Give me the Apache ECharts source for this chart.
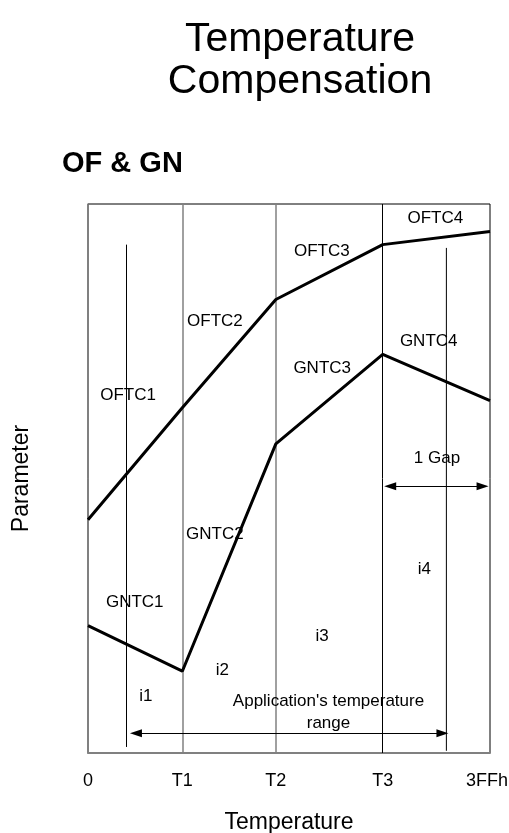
<!DOCTYPE html>
<html>
<head>
<meta charset="utf-8">
<script src="https://cdn.jsdelivr.net/npm/echarts@6/dist/echarts.min.js"></script>
<style>
  html, body { margin: 0; padding: 0; background: #fff; }
  #main { width: 509px; height: 833px; }
</style>
</head>
<body>
<div id="main"></div>
<script>
// temperature axis runs 0 .. 3FFh, breakpoints T1..T3
var tempTicks = [0, 240, 478, 750, 1023]
var tickNames = ['0', 'T1', 'T2', 'T3', '3FFh']

// parameter curves (0..100 scale)
var ofValues = [42.5, 62.9, 82.6, 92.6, 95.0]
var gnValues = [23.2, 14.9, 56.3, 72.6, 64.2]

// application range markers
var rangeLow = 98
var rangeHigh = 912
var rangeLowSpan = [1.1, 92.6]
var rangeHighSpan = [0.4, 92.0]

// arrows
var gapArrow = [[769, 48.6], [1004, 48.6]]
var appArrow = [[122, 3.6], [902, 3.6]]

// labels inside the plot
var noteText = ['OFTC4', 'OFTC3', 'OFTC2', 'GNTC4', 'GNTC3', 'OFTC1', '1 Gap', 'GNTC2',
  'i4', 'GNTC1', 'i3', 'i2', 'i1', "Application's temperature\nrange"]
var noteX = [884, 595, 323, 867, 596, 102, 888, 323, 856, 119, 596, 342, 147, 612]
var noteY = [97.4, 91.4, 78.6, 74.9, 70.0, 65.1, 53.7, 39.9, 33.5, 27.5, 21.2, 15.0, 10.4, 7.5]

var FONT = "'Liberation Sans', Arial, sans-serif"

function pairs(xs, ys) {
  return xs.map(function (x, i) { return [x, ys[i]] })
}

var myChart = echarts.init(document.getElementById('main'))
myChart.setOption({
  animation: false,
  textStyle: { fontFamily: FONT, color: '#000' },
  title: [
    {
      text: 'Temperature\nCompensation',
      left: 300,
      top: 19,
      textAlign: 'center',
      padding: 0,
      textStyle: { fontFamily: FONT, fontSize: 41, fontWeight: 'normal', lineHeight: 42, color: '#000' },
    },
    {
      text: 'OF & GN',
      left: 62,
      top: 149,
      padding: 0,
      textStyle: { fontFamily: FONT, fontSize: 29, fontWeight: 'bold', lineHeight: 30, color: '#000' },
    },
  ],
  grid: {
    left: 88,
    right: 19,
    top: 204,
    bottom: 80,
    outerBoundsMode: 'none',
    containLabel: false,
    show: true,
    borderColor: '#000',
    borderWidth: 1,
  },
  xAxis: {
    type: 'value',
    min: 0,
    max: 1023,
    name: 'Temperature',
    nameLocation: 'middle',
    nameGap: 58,
    nameTextStyle: { fontFamily: FONT, fontSize: 23, color: '#000' },
    splitLine: { show: false },
    axisTick: { show: false },
    axisLine: { lineStyle: { color: '#808080', width: 2 } },
    axisLabel: {
      customValues: tempTicks,
      margin: 19,
      fontFamily: FONT,
      fontSize: 18,
      color: '#000',
      formatter: function (v) {
        var i = tempTicks.indexOf(v)
        if (i === tempTicks.length - 1) return '{end|' + tickNames[i] + '}'
        return i >= 0 ? tickNames[i] : ''
      },
      rich: {
        end: { fontFamily: FONT, fontSize: 18, color: '#000', padding: [0, 6, 0, 0] },
      },
    },
  },
  yAxis: {
    type: 'value',
    min: 0,
    max: 100,
    name: 'Parameter',
    nameLocation: 'middle',
    nameGap: 55,
    nameTextStyle: { fontFamily: FONT, fontSize: 23, color: '#000' },
    splitLine: { show: false },
    axisTick: { show: false },
    axisLabel: { show: false },
    axisLine: { show: true, lineStyle: { color: '#808080', width: 1.5 } },
  },
  series: [
    {
      name: 'OF',
      type: 'line',
      data: pairs(tempTicks, ofValues),
      symbol: 'none',
      lineStyle: { color: '#000', width: 3 },
      z: 5,
      markLine: {
        silent: true,
        symbol: 'none',
        label: { show: false },
        data: [
          { xAxis: tempTicks[1], lineStyle: { color: '#808080', width: 1.5, type: 'solid' } },
          { xAxis: tempTicks[2], lineStyle: { color: '#808080', width: 1.5, type: 'solid' } },
          { xAxis: tempTicks[3], lineStyle: { color: '#000', width: 1, type: 'solid' } },
        ],
      },
    },
    {
      name: 'GN',
      type: 'line',
      data: pairs(tempTicks, gnValues),
      symbol: 'none',
      lineStyle: { color: '#000', width: 3 },
      z: 5,
    },
    {
      name: 'range low',
      type: 'line',
      data: [[rangeLow, rangeLowSpan[0]], [rangeLow, rangeLowSpan[1]]],
      symbol: 'none',
      lineStyle: { color: '#000', width: 1 },
      z: 3,
    },
    {
      name: 'range high',
      type: 'line',
      data: [[rangeHigh, rangeHighSpan[0]], [rangeHigh, rangeHighSpan[1]]],
      symbol: 'none',
      lineStyle: { color: '#000', width: 1 },
      z: 3,
    },
    {
      name: 'arrows',
      type: 'line',
      data: [],
      markLine: {
        silent: true,
        symbol: ['triangle', 'triangle'],
        symbolSize: [8, 12],
        label: { show: false },
        lineStyle: { color: '#000', width: 1, type: 'solid' },
        data: [
          [{ coord: gapArrow[0] }, { coord: gapArrow[1] }],
          [{ coord: appArrow[0] }, { coord: appArrow[1] }],
        ],
      },
    },
    {
      name: 'notes',
      type: 'scatter',
      symbolSize: 0,
      z: 10,
      itemStyle: { opacity: 1 },
      data: noteText.map(function (t, i) {
        return { name: t, value: [noteX[i], noteY[i]] }
      }),
      label: {
        show: true,
        position: 'inside',
        formatter: '{b}',
        fontFamily: FONT,
        fontSize: 17,
        lineHeight: 22,
        color: '#000',
      },
    },
  ],
})
</script>
</body>
</html>
